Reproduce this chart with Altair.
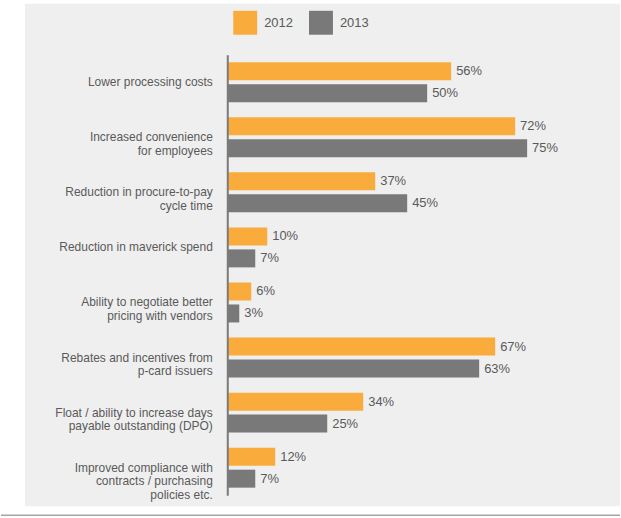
import altair as alt
import pandas as pd

categories = [
    "Lower processing costs",
    "Increased convenience|for employees",
    "Reduction in procure-to-pay|cycle time",
    "Reduction in maverick spend",
    "Ability to negotiate better|pricing with vendors",
    "Rebates and incentives from|p-card issuers",
    "Float / ability to increase days|payable outstanding (DPO)",
    "Improved compliance with|contracts / purchasing|policies etc.",
]
values_2012 = [56, 72, 37, 10, 6, 67, 34, 12]
values_2013 = [50, 75, 45, 7, 3, 63, 25, 7]
years = ["2012", "2013"]
colors = ["#F9AC3B", "#7A7979"]

rows = []
for c, a, b in zip(categories, values_2012, values_2013):
    rows.append({"category": c, "year": "2012", "value": a, "label": f"{a}%"})
    rows.append({"category": c, "year": "2013", "value": b, "label": f"{b}%"})
df = pd.DataFrame(rows)

FONT = "Liberation Sans"

y_enc = alt.Y(
    "category:N",
    sort=categories,
    scale=alt.Scale(paddingInner=0, paddingOuter=0),
    axis=alt.Axis(
        title=None,
        labelExpr="split(datum.label, '|')",
        ticks=False,
        domainColor="#7a7a7a",
        domainWidth=2,
        labelPadding=15,
        labelFontSize=12,
        labelColor="#5a5a5a",
        labelFont=FONT,
        labelLineHeight=13.5,
        labelLimit=300,
        zindex=1,
    ),
)
yoff = alt.YOffset("year:N", sort=years, scale=alt.Scale(paddingInner=0.18, paddingOuter=0.345))
x_enc = alt.X("value:Q", scale=alt.Scale(domain=[0, 90], nice=False), axis=None)

base = alt.Chart(df)

bars = base.mark_bar().encode(
    y=y_enc,
    yOffset=yoff,
    x=x_enc,
    color=alt.Color(
        "year:N",
        scale=alt.Scale(domain=years, range=colors),
        legend=alt.Legend(
            title=None,
            orient="none",
            legendX=6,
            legendY=-44,
            direction="horizontal",
            symbolType="square",
            symbolSize=576,
            symbolStrokeWidth=0,
            labelFontSize=13,
            labelFont=FONT,
            labelColor="#5a5a5a",
            labelOffset=7,
            columnPadding=16,
            padding=0,
        ),
    ),
)

texts = base.mark_text(align="left", baseline="middle", dx=5, fontSize=13, font=FONT, color="#5a5a5a").encode(
    y=y_enc,
    yOffset=yoff,
    x=x_enc,
    text="label:N",
)

bg = alt.Chart(pd.DataFrame({"a": [0]})).mark_rect(color="#efefef").encode(
    x=alt.value(-203), x2=alt.value(394), y=alt.value(-51), y2=alt.value(453)
)
bottom_rule = alt.Chart(pd.DataFrame({"a": [0]})).mark_rule(color="#a5a5a5", strokeWidth=1.5).encode(
    x=alt.value(-227), x2=alt.value(394), y=alt.value(462)
)

chart = (
    alt.layer(bg, bottom_rule, bars, texts)
    .properties(
        width=361,
        height=442,
        padding={"top": 3, "left": 0, "right": 0, "bottom": 0},
        background="white",
    )
    .configure_view(stroke=None)
)

chart.save("out.html", embed_options={"renderer": "svg", "actions": False})
